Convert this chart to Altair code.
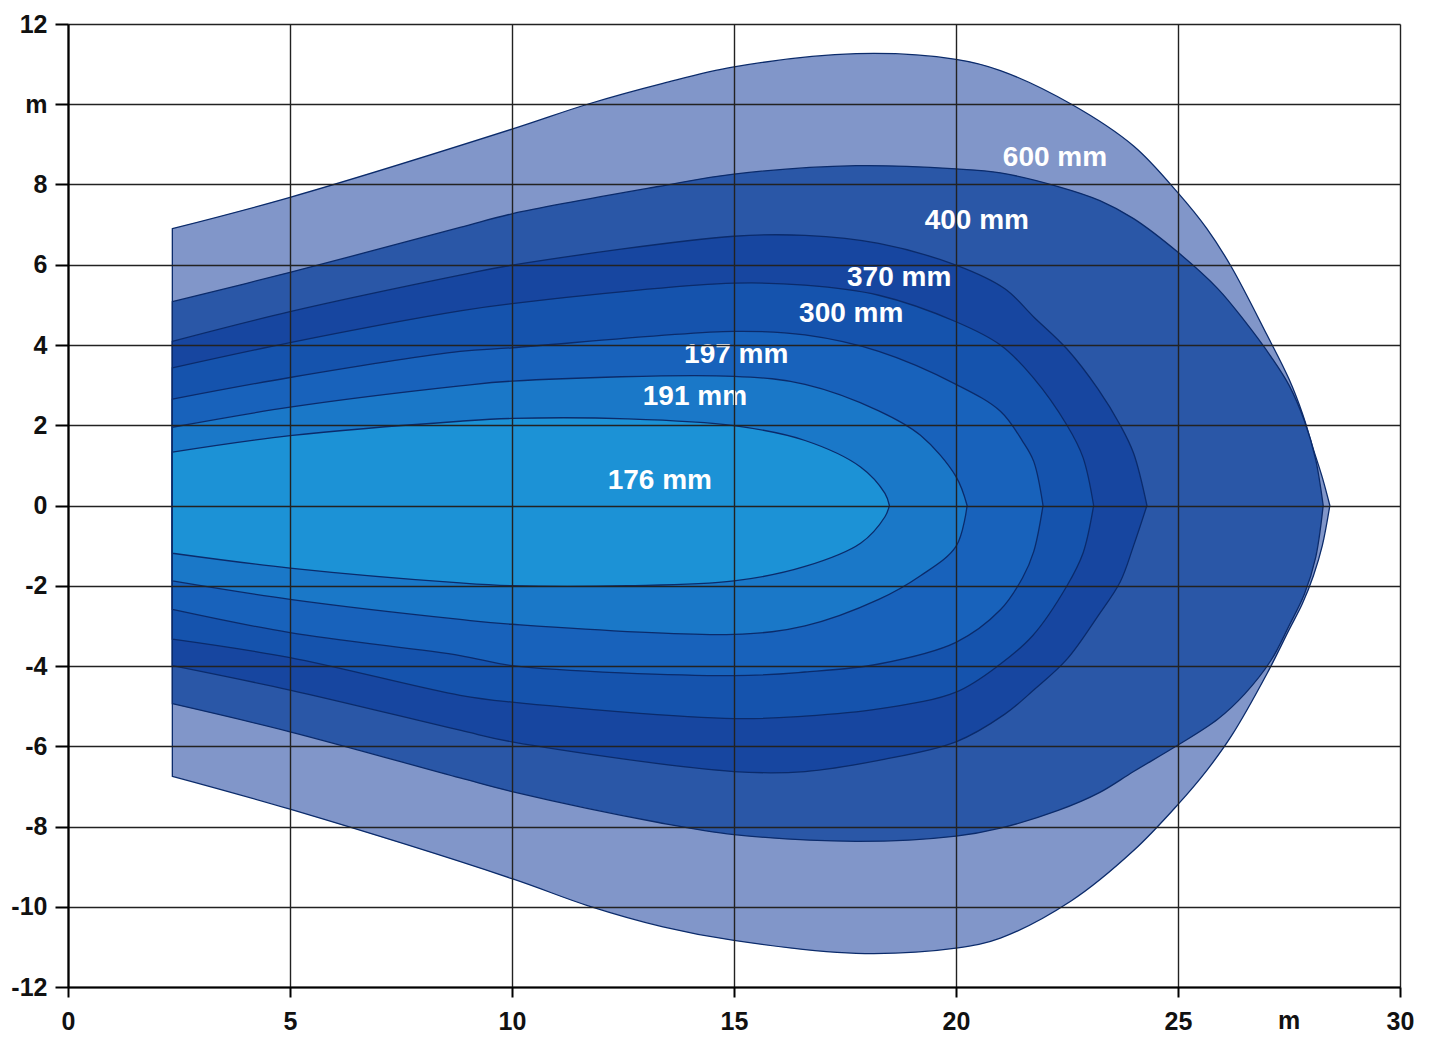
import altair as alt
import pandas as pd

# ---------------- data ----------------
# 600 mm
X600 = [2.35, 5, 10, 11.7, 13.4, 15, 17.75, 20, 21, 22.6, 24, 25, 25.65, 26.2, 27, 27.5, 27.8, 28.05, 28.25, 28.42]
UP600 = [6.9, 7.68, 9.38, 10.0, 10.52, 10.93, 11.26, 11.12, 10.84, 10.0, 8.96, 7.79, 6.9, 5.95, 4.26, 3.15, 2.3, 1.4, 0.7, 0]
LO600 = [-6.75, -7.57, -9.3, -9.97, -10.5, -10.84, -11.16, -11.03, -10.78, -9.85, -8.6, -7.45, -6.6, -5.75, -4.2, -3.1, -2.45, -1.75, -1.0, 0]
# 400 mm
X400 = [2.35, 5, 8.83, 10, 13.3, 15, 17.75, 20, 21, 22.3, 23.24, 24, 25, 25.9, 26.5, 27.1, 27.5, 27.85, 28.1, 28.27]
UP400 = [5.08, 5.81, 6.93, 7.27, 7.95, 8.26, 8.47, 8.39, 8.29, 7.95, 7.6, 7.15, 6.31, 5.4, 4.6, 3.7, 3.0, 2.1, 1.15, 0]
LO400 = [-4.94, -5.64, -6.79, -7.13, -7.9, -8.2, -8.37, -8.24, -8.04, -7.6, -7.15, -6.63, -5.97, -5.32, -4.7, -3.85, -3.0, -2.2, -1.3, 0]
# 370 mm
X370 = [2.35, 5, 8.83, 10, 15, 16.6, 18.26, 20, 21.1, 21.75, 22.5, 23.2, 23.7, 24.0, 24.3]
UP370 = [4.09, 4.83, 5.74, 5.99, 6.71, 6.73, 6.53, 5.99, 5.4, 4.7, 3.9, 2.9, 2.0, 1.3, 0]
LO370 = [-3.99, -4.6, -5.6, -5.89, -6.63, -6.63, -6.35, -5.89, -5.2, -4.6, -3.83, -2.75, -1.9, -1.0, 0]
# 300 mm
X300 = [2.35, 5, 8.83, 10, 15, 16.6, 18.26, 20, 21.0, 21.73, 22.5, 22.86, 23.1]
UP300 = [3.43, 4.06, 4.85, 5.03, 5.54, 5.49, 5.24, 4.58, 4.0, 3.2, 2.0, 1.2, 0]
LO300 = [-3.33, -3.79, -4.73, -4.9, -5.31, -5.25, -5.07, -4.65, -3.95, -3.24, -2.0, -1.19, 0]
# 197 mm
X197 = [2.35, 5, 8.83, 10, 15, 16.6, 18.26, 20, 21.0, 21.5, 21.75, 21.96]
UP197 = [2.65, 3.19, 3.84, 3.93, 4.34, 4.25, 3.84, 3.02, 2.35, 1.6, 1.1, 0]
LO197 = [-2.59, -3.17, -3.74, -3.99, -4.24, -4.15, -3.95, -3.41, -2.6, -1.8, -1.15, 0]
# 191 mm
X191 = [2.35, 5, 8.83, 10, 15, 16.6, 18.26, 19.2, 20, 20.25]
UP191 = [1.95, 2.45, 2.98, 3.1, 3.22, 3.02, 2.36, 1.75, 0.72, 0]
LO191 = [-1.88, -2.34, -2.84, -2.96, -3.21, -3.0, -2.34, -1.75, -1.02, 0]
# 176 mm
X176 = [2.35, 5, 8.83, 10, 12.6, 15, 16.6, 17.85, 18.4, 18.5]
UP176 = [1.33, 1.74, 2.1, 2.17, 2.16, 1.99, 1.62, 0.96, 0.3, 0]
LO176 = [-1.19, -1.56, -1.93, -2.0, -2.0, -1.88, -1.52, -0.94, -0.28, 0]

LABELS = ["600 mm", "400 mm", "370 mm", "300 mm", "197 mm", "191 mm", "176 mm"]
LABEL_X = [22.23, 20.47, 18.72, 17.64, 15.05, 14.12, 13.33]
LABEL_Y = [8.66, 7.08, 5.67, 4.78, 3.74, 2.70, 0.62]

FILLS = ["#8196c9", "#2a57a7", "#1746a0", "#1553ad", "#1862bb", "#1a78c8", "#1c92d6"]

X_TICKS = [0, 5, 10, 15, 20, 25, 30]
Y_TICKS = [-12, -10, -8, -6, -4, -2, 0, 2, 4, 6, 8, 10, 12]
X_UNIT_POS = [27.5]
X_UNIT_TXT = ["m"]

# ---------------- chart ----------------
W, H = 1332, 963
FONT = "Liberation Sans"
X_TICK_SIZE = 10
X_LABEL_PAD = 12
TICK_FS = 25

xscale = alt.Scale(domain=[0, 30], nice=False, zero=False)
yscale = alt.Scale(domain=[-12, 12], nice=False, zero=False)

xaxis = alt.Axis(values=X_TICKS, title=None, grid=True, gridColor="#222222", gridWidth=1.4,
                 gridOpacity=1, domainColor="#000000", domainWidth=2.2, tickColor="#000000",
                 tickWidth=2, tickSize=X_TICK_SIZE, labelFont=FONT, labelFontSize=TICK_FS,
                 labelFontWeight="bold", labelColor="#111111", labelPadding=X_LABEL_PAD,
                 labelFlush=False, labelExpr="'' + datum.value", zindex=1)
yaxis = alt.Axis(values=Y_TICKS, title=None, grid=True, gridColor="#222222", gridWidth=1.4,
                 gridOpacity=1, domainColor="#000000", domainWidth=2.2, tickColor="#000000",
                 tickWidth=2, tickSize=13, labelFont=FONT, labelFontSize=TICK_FS,
                 labelFontWeight="bold", labelColor="#111111", labelPadding=8,
                 labelFlush=False, labelExpr="datum.value == 10 ? 'm' : '' + datum.value", zindex=1)

contours = [
    (X600, UP600, LO600),
    (X400, UP400, LO400),
    (X370, UP370, LO370),
    (X300, UP300, LO300),
    (X197, UP197, LO197),
    (X191, UP191, LO191),
    (X176, UP176, LO176),
]

layers = []
for i, (xs, ups, los) in enumerate(contours):
    df = pd.DataFrame({"x": xs, "y": ups, "y2": los})
    layer = alt.Chart(df).mark_area(
        fill=FILLS[i], stroke="#0b2b6b", strokeWidth=1.3, interpolate="catmull-rom", opacity=1
    ).encode(
        x=alt.X("x:Q", scale=xscale, axis=xaxis),
        y=alt.Y("y:Q", scale=yscale, axis=yaxis),
        y2="y2:Q",
    )
    layers.append(layer)

lab_df = pd.DataFrame({"x": LABEL_X, "y": LABEL_Y, "t": LABELS})
labels = alt.Chart(lab_df).mark_text(
    font=FONT, fontSize=28, fontWeight="bold", color="#ffffff", align="center", baseline="middle"
).encode(x="x:Q", y="y:Q", text="t:N")
layers.append(labels)

unit_df = pd.DataFrame({"x": X_UNIT_POS, "t": X_UNIT_TXT})
unit = alt.Chart(unit_df).mark_text(
    font=FONT, fontSize=TICK_FS, fontWeight="bold", color="#111111", align="center", baseline="top"
).encode(x="x:Q", y=alt.value(H + X_TICK_SIZE + X_LABEL_PAD), text="t:N")
layers.append(unit)

chart = alt.layer(*layers).properties(
    width=W, height=H,
    autosize=alt.AutoSizeParams(type="none"),
    padding={"left": 60, "top": 16, "right": 24, "bottom": 52},
    background="#ffffff",
).configure_view(stroke=None)

chart.save("out.html", embed_options={"renderer": "svg", "actions": False})
